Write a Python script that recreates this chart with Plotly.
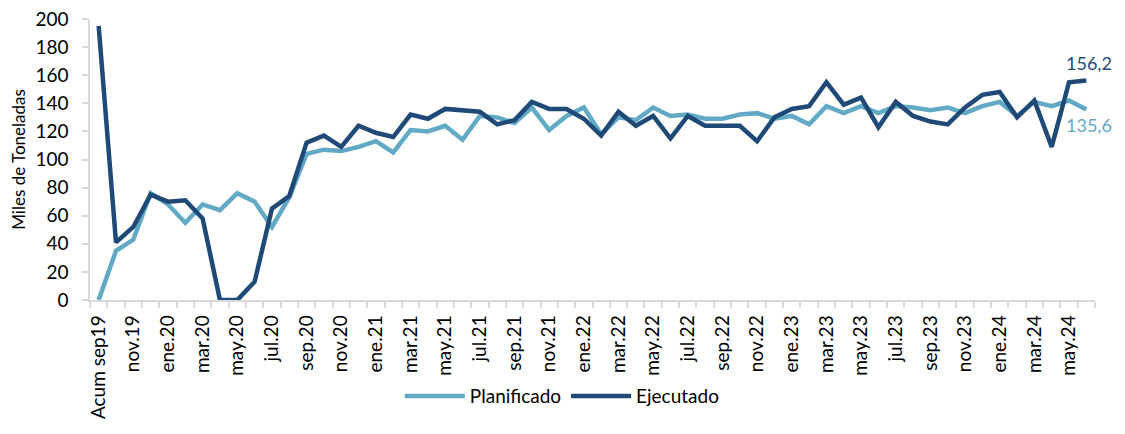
import plotly.graph_objects as go

# Months (Acum sep19 + oct.19 .. jun.24)
meses = ["Acum sep19",
         "oct.19", "nov.19", "dic.19",
         "ene.20", "feb.20", "mar.20", "abr.20", "may.20", "jun.20", "jul.20", "ago.20", "sep.20", "oct.20", "nov.20", "dic.20",
         "ene.21", "feb.21", "mar.21", "abr.21", "may.21", "jun.21", "jul.21", "ago.21", "sep.21", "oct.21", "nov.21", "dic.21",
         "ene.22", "feb.22", "mar.22", "abr.22", "may.22", "jun.22", "jul.22", "ago.22", "sep.22", "oct.22", "nov.22", "dic.22",
         "ene.23", "feb.23", "mar.23", "abr.23", "may.23", "jun.23", "jul.23", "ago.23", "sep.23", "oct.23", "nov.23", "dic.23",
         "ene.24", "feb.24", "mar.24", "abr.24", "may.24", "jun.24"]

planificado = [0, 35, 43, 76, 68, 55, 68, 64, 76, 70,
               52, 73, 104, 107, 106, 109, 113, 105, 121, 120,
               124, 114, 131, 130, 126, 137, 121, 131, 137, 118,
               130, 128, 137, 131, 132, 129, 129, 132, 133, 129,
               131, 125, 138, 133, 138, 133, 138, 137, 135, 137,
               133, 138, 141, 131, 141, 138, 142, 135.6]

ejecutado = [195, 41, 52, 75, 70, 71, 58, 0, 0, 13,
             65, 74, 112, 117, 109, 124, 119, 116, 132, 129,
             136, 135, 134, 125, 128, 141, 136, 136, 129, 117,
             134, 124, 131, 115, 131, 124, 124, 124, 113, 130,
             136, 138, 155, 139, 144, 123, 141, 131, 127, 125,
             137, 146, 148, 130, 142, 109, 155, 156.2]

x = list(range(len(meses)))
c_plan = "#62a9c6"
c_ejec = "#1f4a78"
font = "Lato"

fig = go.Figure()
fig.add_trace(go.Scatter(x=x, y=planificado, mode="lines", name="Planificado",
                         line=dict(color=c_plan, width=4.5), cliponaxis=False))
fig.add_trace(go.Scatter(x=x, y=ejecutado, mode="lines", name="Ejecutado",
                         line=dict(color=c_ejec, width=4.5), cliponaxis=False))

# end labels
fig.add_annotation(x=x[-1], y=ejecutado[-1], text="156,2", showarrow=False,
                   xanchor="right", yanchor="middle", xshift=28, yshift=18,
                   font=dict(color=c_ejec, size=18, family=font))
fig.add_annotation(x=x[-1], y=planificado[-1], text="135,6", showarrow=False,
                   xanchor="right", yanchor="middle", xshift=28, yshift=-16,
                   font=dict(color=c_plan, size=18, family=font))

# the page body keeps its 8px margin, so the figure is 16px smaller than the window
fig.update_layout(
    width=1109, height=418,
    margin=dict(l=82, r=22, t=11, b=120),
    plot_bgcolor="white", paper_bgcolor="white",
    font=dict(family=font, size=18, color="#000000"),
    showlegend=True,
    legend=dict(orientation="h", x=0.47, xanchor="center",
                y=-0.41, yanchor="bottom", font=dict(size=19), itemwidth=60),
)
fig.update_xaxes(
    automargin=False,
    range=[-0.5, len(meses) - 0.5],
    tickmode="array", tickvals=x[::2], ticktext=meses[::2],
    tickangle=-90, tickfont=dict(size=19), ticklabelstandoff=6,
    ticks="", showgrid=False, zeroline=False,
    showline=True, linecolor="#d9d9d9", linewidth=1.5,
    minor=dict(tickmode="array", tickvals=[i - 0.5 for i in range(len(meses) + 1)],
               ticks="outside", ticklen=6, tickcolor="#d9d9d9", tickwidth=1.5, showgrid=False),
)
fig.update_yaxes(
    automargin=False,
    range=[0, 200], dtick=20, showgrid=False, zeroline=False,
    showline=True, linecolor="#d9d9d9", linewidth=1.5,
    ticks="outside", ticklen=6, tickcolor="#d9d9d9", tickwidth=1.5,
    tickfont=dict(size=19), ticklabelstandoff=10, ticklabeloverflow="allow",
    title=dict(text="Miles de Toneladas", font=dict(size=17), standoff=12),
)

fig.write_html("out.html")
